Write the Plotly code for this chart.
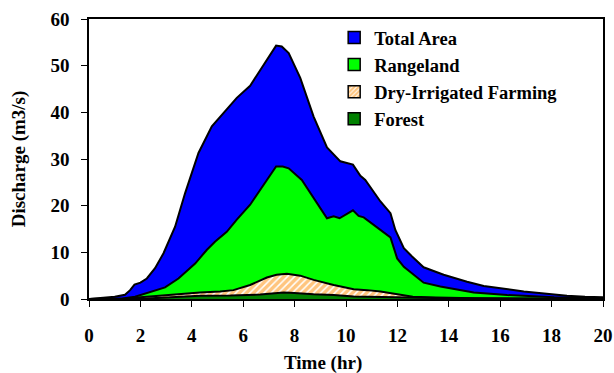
import plotly.graph_objects as go

# Total Area
total_t = [0, 0.6, 1.0, 1.4, 1.6, 1.77, 2.0, 2.25, 2.57, 2.9, 3.35, 3.74, 4.26, 4.78, 5.3, 5.75,
           6.27, 6.8, 7.28, 7.5, 7.77, 8.22, 8.74, 9.26, 9.78, 10.27, 10.56, 10.75, 11.34, 11.73,
           11.92, 12.25, 12.57, 13.02, 13.8, 14.71, 15.36, 16.92, 17.96, 18.6, 19.3, 20]
total_q = [0, 0.3, 0.5, 0.9, 1.9, 3.1, 3.5, 4.4, 6.6, 9.8, 15.5, 22.7, 31.3, 37.0, 40.3, 43.1,
           45.7, 50.1, 54.3, 54.1, 52.7, 47.4, 39.1, 32.5, 29.5, 28.8, 26.4, 25.5, 20.9, 18.4,
           14.8, 10.9, 9.1, 6.8, 5.2, 3.7, 2.8, 1.6, 1.0, 0.7, 0.5, 0.4]

# Rangeland
range_t = [0, 1.3, 1.79, 2.44, 2.96, 3.48, 4.13, 4.58, 4.91, 5.36, 5.75, 6.27, 6.8, 7.28, 7.54,
           7.77, 8.28, 8.77, 9.26, 9.52, 9.75, 10.27, 10.49, 10.69, 11.2, 11.73, 11.99, 12.25,
           13.02, 13.67, 14.97, 16.27, 18.1, 19, 20]
range_q = [0, 0.1, 0.5, 1.6, 2.5, 4.4, 7.6, 10.5, 12.3, 14.4, 17.0, 20.2, 24.5, 28.4, 28.4,
           28.0, 25.5, 21.4, 17.3, 17.7, 17.3, 19.0, 17.8, 17.5, 15.4, 13.2, 8.7, 6.9,
           3.5, 2.7, 1.4, 0.86, 0.36, 0.2, 0.1]

# Dry-Irrigated Farming
dry_t = [0, 1.5, 2.0, 3.16, 3.93, 4.32, 5.1, 5.62, 6.27, 6.92, 7.3, 7.7, 8.22, 8.74, 9.52, 10.3,
         10.82, 11.34, 12.0, 12.6, 13.5, 15, 20]
dry_q = [0, 0.1, 0.36, 0.86, 1.3, 1.4, 1.6, 1.9, 3.0, 4.6, 5.2, 5.4, 5.0, 4.1, 3.0, 2.1,
         1.9, 1.6, 1.0, 0.5, 0.3, 0.15, 0.05]

# Forest
forest_t = [0, 2.0, 3.0, 4.32, 5.5, 6.66, 7.57, 7.83, 8.74, 9.52, 10.3, 11.34, 12.5, 14, 20]
forest_q = [0, 0.05, 0.3, 0.7, 0.75, 0.95, 1.4, 1.35, 1.0, 0.86, 0.55, 0.5, 0.3, 0.15, 0.05]

series_names = ["Total Area", "Rangeland", "Dry-Irrigated Farming", "Forest"]
x_ticks = list(range(0, 21, 2))
y_ticks = list(range(0, 61, 10))
x_title = "Time (hr)"
y_title = "Discharge (m3/s)"

font_family = "'Times New Roman', 'Liberation Serif', 'DejaVu Serif', serif"
orange = "#FF8C00"
hatch = dict(shape="/", fgcolor=orange, bgcolor="white", size=5, solidity=0.7)

fig = go.Figure()
line = dict(color="black", width=2)
fig.add_trace(go.Scatter(x=total_t, y=total_q, name=series_names[0], mode="lines",
                         fill="tozeroy", fillcolor="#0000FF", line=line, showlegend=False))
fig.add_trace(go.Scatter(x=range_t, y=range_q, name=series_names[1], mode="lines",
                         fill="tozeroy", fillcolor="#00FF00", line=line, showlegend=False))
fig.add_trace(go.Scatter(x=dry_t, y=dry_q, name=series_names[2], mode="lines",
                         fill="tozeroy", line=line, fillpattern=hatch, showlegend=False))
fig.add_trace(go.Scatter(x=forest_t, y=forest_q, name=series_names[3], mode="lines",
                         fill="tozeroy", fillcolor="#008000", line=line, showlegend=False))

# legend-only square swatches
legend_colors = ["#0000FF", "#00FF00", "white", "#008000"]
for i, nm in enumerate(series_names):
    mk = dict(color=legend_colors[i], line=dict(color="black", width=1.5))
    if i == 2:
        mk["pattern"] = dict(shape="/", fgcolor=orange, bgcolor="white", size=4, solidity=0.7)
    fig.add_trace(go.Bar(x=[None], y=[None], name=nm, marker=mk, showlegend=True))

fig.update_layout(
    width=614, height=373,
    margin=dict(l=89, r=11, t=19, b=74),
    paper_bgcolor="white", plot_bgcolor="white",
    font=dict(family=font_family, color="black", size=19),
    showlegend=True,
    legend=dict(x=0.477, y=1.0, xanchor="left", yanchor="top",
                font=dict(family=font_family, size=18.5, color="black", weight="bold"),
                bgcolor="rgba(0,0,0,0)", tracegroupgap=0, itemwidth=30),
    xaxis=dict(range=[0, 20], tickvals=x_ticks, ticks="outside", ticklen=6, tickwidth=1,
               tickcolor="black", showline=True, linecolor="black", linewidth=1.5, mirror=True,
               showgrid=False, zeroline=False, ticklabelstandoff=12, automargin=False,
               tickfont=dict(family=font_family, size=19, weight="bold")),
    yaxis=dict(range=[0, 60], tickvals=y_ticks, ticks="outside", ticklen=6, tickwidth=1,
               tickcolor="black", showline=True, linecolor="black", linewidth=1.5, mirror=True,
               showgrid=False, zeroline=False, ticklabelstandoff=8, automargin=False,
               tickfont=dict(family=font_family, size=19, weight="bold"),
               title=dict(text=y_title, font=dict(family=font_family, size=19, weight="bold"),
                          standoff=20)),
    annotations=[dict(text=x_title, xref="paper", yref="paper", x=0.455, y=-0.2286,
                      xanchor="center", yanchor="middle", showarrow=False,
                      font=dict(family=font_family, size=19, weight="bold", color="black"))],
)

fig.write_html("out.html")
